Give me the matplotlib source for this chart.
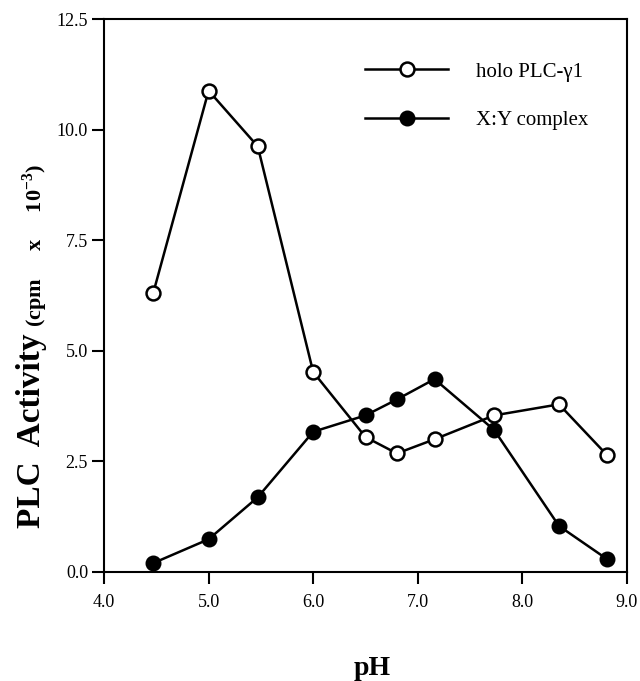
import matplotlib
matplotlib.use("Agg")
import matplotlib.pyplot as plt

# serif look of the original scan
matplotlib.rcParams['font.family'] = 'Liberation Serif'
matplotlib.rcParams['mathtext.fontset'] = 'custom'
matplotlib.rcParams['mathtext.rm'] = 'Liberation Serif:bold'
matplotlib.rcParams['mathtext.bf'] = 'Liberation Serif:bold'

ph = [4.47, 5.0, 5.47, 6.0, 6.5, 6.8, 7.16, 7.73, 8.35, 8.81]
holo_plc = [6.3, 10.88, 9.62, 4.52, 3.05, 2.68, 3.0, 3.54, 3.79, 2.64]
xy_complex = [0.2, 0.74, 1.69, 3.17, 3.54, 3.90, 4.36, 3.21, 1.04, 0.29]

x_ticks = [4.0, 5.0, 6.0, 7.0, 8.0, 9.0]
y_ticks = [0.0, 2.5, 5.0, 7.5, 10.0, 12.5]

W, H = 640, 681
fig = plt.figure(figsize=(W / 100, H / 100), dpi=100)
ax = fig.add_axes([104 / W, (H - 572) / H, (627 - 104) / W, (572 - 19) / H])

ax.plot(ph, xy_complex, color='black', lw=1.8, marker='o', ms=10,
        mfc='black', mec='black', mew=1.5, label='X:Y complex', zorder=3)
ax.plot(ph, holo_plc, color='black', lw=1.8, marker='o', ms=10,
        mfc='white', mec='black', mew=1.8, label='holo PLC-γ1', zorder=4)

ax.set_xlim(4.0, 9.0)
ax.set_ylim(0.0, 12.5)
ax.set_xticks(x_ticks)
ax.set_xticklabels([f"{v:.1f}" for v in x_ticks])
ax.set_yticks(y_ticks)
ax.set_yticklabels([f"{v:.1f}" for v in y_ticks])
ax.tick_params(direction='out', length=8.5, width=1.5, labelsize=13)
ax.tick_params(axis='x', pad=7)
ax.tick_params(axis='y', pad=3)
for s in ax.spines.values():
    s.set_linewidth(1.5)

# legend, holo first as in the figure
handles, labels = ax.get_legend_handles_labels()
ax.legend(handles[::-1], labels[::-1], loc='upper left',
          bbox_to_anchor=(365 / W, (H - 62) / H), bbox_transform=fig.transFigure,
          frameon=False, fontsize=15, handlelength=4.0, handletextpad=1.35,
          labelspacing=1.4, borderpad=0, borderaxespad=0)

# x label
fig.text(372 / W, (H - 675) / H, 'pH', fontsize=20, fontweight='bold',
         ha='center', va='baseline')

# y label in two sizes
t1 = fig.text(40 / W, (H - 528) / H, 'PLC  Activity', fontsize=24, fontweight='bold',
              rotation=90, rotation_mode='anchor', ha='left', va='baseline')
fig.canvas.draw()
bb = t1.get_window_extent(fig.canvas.get_renderer())
fig.text(42 / W, (bb.y1 + 6) / H, r'(cpm     x     10$^{-3}$)', fontsize=16, fontweight='bold',
         rotation=90, rotation_mode='anchor', ha='left', va='baseline')

fig.savefig('out.png', dpi=100)
